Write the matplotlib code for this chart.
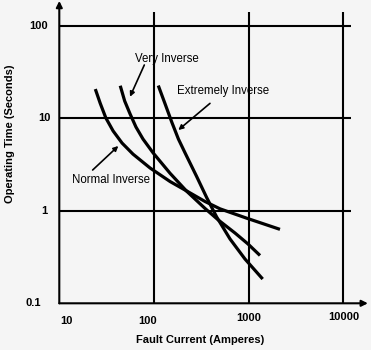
import numpy as np
import matplotlib
matplotlib.use("Agg")
import matplotlib.pyplot as plt

# Inverse-time overcurrent relay characteristics (log-log)
normal_current = [24, 27, 31, 37, 46, 60, 91, 148, 221, 346, 498, 959, 2140]
normal_time = [20.7, 14.6, 10.1, 7.3, 5.4, 4.1, 2.9, 2.07, 1.64, 1.26, 1.05, 0.83, 0.63]

very_current = [44, 49, 56, 64.5, 76.5, 98, 148, 221, 346, 478, 717, 983, 1316]
very_time = [22.5, 15.4, 11.1, 8.05, 5.97, 4.22, 2.54, 1.63, 1.06, 0.795, 0.575, 0.438, 0.329]

extreme_current = [111, 131, 154, 181, 213, 282, 360, 459, 635, 914, 1405]
extreme_time = [22.6, 14.3, 9.1, 5.97, 4.22, 2.35, 1.39, 0.857, 0.496, 0.301, 0.183]

x_ticks = [10, 100, 1000, 10000]
x_tick_labels = ["10", "100", "1000", "10000"]
y_ticks = [0.1, 1, 10, 100]
y_tick_labels = ["0.1", "1", "10", "100"]
grid_x = [100, 1000, 10000]
grid_y = [1, 10, 100]

W, H = 371, 350
BG = "#f5f5f5"
fig = plt.figure(figsize=(W / 100, H / 100), dpi=100, facecolor=BG)
plt.rcParams["font.family"] = ["Liberation Sans", "DejaVu Sans"]

left_px, bottom_px = 59.3, 303.3
ax = fig.add_axes([left_px / W, (H - bottom_px) / H, (W - left_px) / W, bottom_px / H])
ax.set_xscale("log")
ax.set_yscale("log")
ax.set_xlim(10, 10 ** (1 + (W - left_px) / 94.7))
ax.set_ylim(0.1, 10 ** (-1 + bottom_px / 92.5))
ax.axis("off")

# grid lines
ax.vlines(grid_x, 0.1, 140, color="black", lw=1.5)
ax.hlines(grid_y, 10, 12000, color="black", lw=1.5)

# axes with arrowheads
arrow = dict(arrowstyle="-|>", lw=1.5, color="black", mutation_scale=9,
             shrinkA=0, shrinkB=0)
ax.annotate("", xy=(0.99, 0), xytext=(0, 0), xycoords="axes fraction",
            arrowprops=arrow, annotation_clip=False)
ax.annotate("", xy=(0, 0.997), xytext=(0, 0), xycoords="axes fraction",
            arrowprops=arrow, annotation_clip=False)

# curves
for cur, t in [(normal_current, normal_time), (very_current, very_time),
               (extreme_current, extreme_time)]:
    ax.plot(cur, t, color="black", lw=2.3, solid_joinstyle="round",
            solid_capstyle="butt", clip_on=False)

# tick labels
y_offsets = [-18, -12, -9, -11]
for val, lab, dx in zip(y_ticks, y_tick_labels, y_offsets):
    ax.annotate(lab, xy=(0, val), xycoords=("axes fraction", "data"),
                xytext=(dx, 0), textcoords="offset pixels", ha="right",
                va="center", fontsize=8, fontweight="bold",
                annotation_clip=False)
x_offsets = [(7, -18), (-6, -18), (0, -15), (0, -14)]
for val, lab, (dx, dy) in zip(x_ticks, x_tick_labels, x_offsets):
    ax.annotate(lab, xy=(val, 0), xycoords=("data", "axes fraction"),
                xytext=(dx, dy), textcoords="offset pixels", ha="center",
                va="center", fontsize=8, fontweight="bold",
                annotation_clip=False)

# axis titles
fig.text(200 / W, 1 - 340 / H, "Fault Current (Amperes)", ha="center",
         va="center", fontsize=8, fontweight="bold")
fig.text(10 / W, 1 - 134 / H, "Operating Time (Seconds)", ha="center",
         va="center", rotation=90, fontsize=8, fontweight="bold")

# curve labels with pointers
pointer = dict(arrowstyle="-|>", lw=1.2, color="black", mutation_scale=7,
               shrinkA=0, shrinkB=0)
ax.text(136, 43.5, "Very Inverse", ha="center", va="center", fontsize=8.3)
ax.annotate("", xy=(55.8, 17.1), xytext=(79, 37.7), arrowprops=pointer)
ax.text(539, 19.7, "Extremely Inverse", ha="center", va="center", fontsize=8.3)
ax.annotate("", xy=(180.6, 7.47), xytext=(390, 14.5), arrowprops=pointer)
ax.text(13.5, 2.15, "Normal Inverse", ha="left", va="center", fontsize=8.3)
ax.annotate("", xy=(42, 5.02), xytext=(22.5, 2.76), arrowprops=pointer)

fig.savefig("out.png", dpi=100, facecolor=BG)
